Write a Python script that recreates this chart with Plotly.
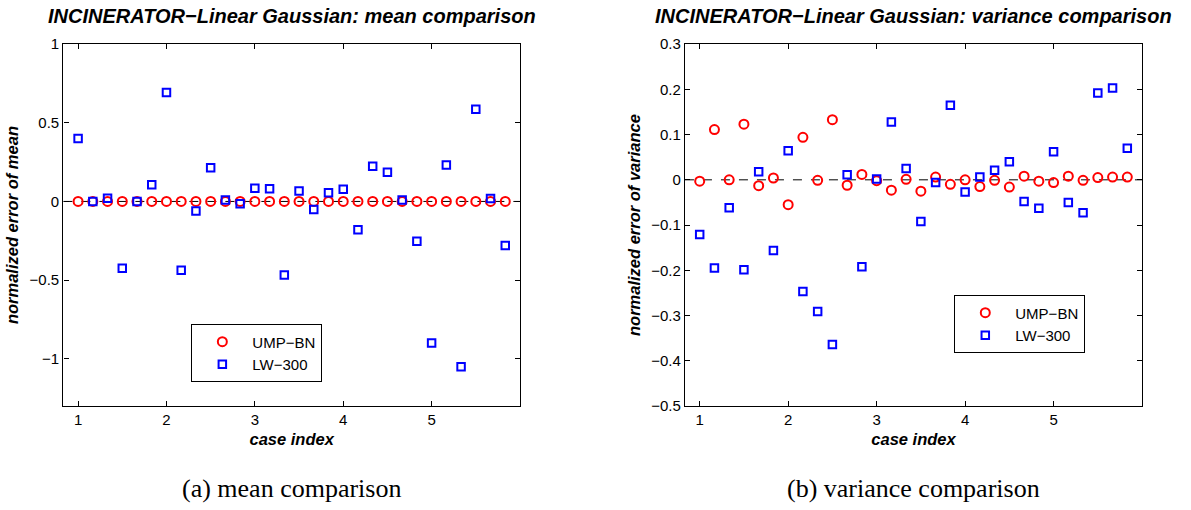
import plotly.graph_objects as go

# Case index: 30 cases, six per unit, starting at 1
case_index = [1 + i / 6 for i in range(30)]

# Normalized error of the mean
mean_ump_bn = [0.0] * 30
mean_lw300 = [0.40, 0.00, 0.02, -0.424, 0.00, 0.106, 0.693, -0.437, -0.061, 0.214,
              0.01, -0.014, 0.084, 0.08, -0.467, 0.067, -0.051, 0.055, 0.078, -0.18,
              0.224, 0.186, 0.01, -0.253, -0.90, 0.231, -1.05, 0.586, 0.018, -0.28]

# Normalized error of the variance
var_ump_bn = [-0.003, 0.111, 0.0, 0.123, -0.013, 0.004, -0.055, 0.094, -0.001, 0.133,
              -0.012, 0.012, -0.002, -0.023, 0.001, -0.025, 0.006, -0.010, 0.0, -0.015,
              -0.001, -0.016, 0.008, -0.003, -0.006, 0.008, -0.001, 0.005, 0.006, 0.006]
var_lw300 = [-0.121, -0.195, -0.062, -0.199, 0.018, -0.156, 0.064, -0.247, -0.291, -0.364,
             0.011, -0.192, 0.002, 0.128, 0.025, -0.092, -0.006, 0.165, -0.027, 0.006,
             0.021, 0.04, -0.048, -0.063, 0.062, -0.05, -0.073, 0.192, 0.203, 0.07]

x_ticks = [1, 2, 3, 4, 5]
mean_ticks = [1, 0.5, 0, -0.5, -1]
var_ticks = [0.3, 0.2, 0.1, 0, -0.1, -0.2, -0.3, -0.4, -0.5]

titles = ["INCINERATOR\u2212Linear Gaussian: mean comparison",
          "INCINERATOR\u2212Linear Gaussian: variance comparison"]
y_titles = ["normalized error of mean", "normalized error of variance"]
captions = ["(a) mean comparison", "(b) variance comparison"]
series_names = ["UMP\u2212BN", "LW\u2212300"]

SANS = "Liberation Sans, Arial, Helvetica, sans-serif"
SERIF = "Liberation Serif, DejaVu Serif, serif"
RED = "#ff0000"
BLUE = "#0000ff"

fig = go.Figure()

panels = [
    (mean_ump_bn, mean_lw300, "x", "y", "legend"),
    (var_ump_bn, var_lw300, "x2", "y2", "legend2"),
]
for ump, lw, xa, ya, lg in panels:
    fig.add_trace(go.Scatter(
        x=case_index, y=ump, mode="markers", name=series_names[0],
        xaxis=xa, yaxis=ya, legend=lg,
        marker=dict(symbol="circle-open", size=9, color=RED, line=dict(width=2, color=RED)),
    ))
    fig.add_trace(go.Scatter(
        x=case_index, y=lw, mode="markers", name=series_names[1],
        xaxis=xa, yaxis=ya, legend=lg,
        marker=dict(symbol="square-open", size=7.5, color=BLUE, line=dict(width=2, color=BLUE)),
    ))

# Dashed reference line at zero error
for xa, ya in [("x", "y"), ("x2", "y2")]:
    fig.add_shape(type="line", xref=f"{xa} domain", yref=ya, x0=0, x1=1, y0=0, y1=0,
                  line=dict(color="black", width=1, dash="dash"), layer="below")

axis_common = dict(
    showline=True, linecolor="black", linewidth=1.3, mirror="ticks",
    ticks="inside", ticklen=5, tickcolor="black", tickwidth=1,
    showgrid=False, zeroline=False,
    tickfont=dict(family=SANS, size=15, color="black"),
)
label_font = dict(family=SANS, size=16.5, color="black", style="italic", weight="bold")

x_dom = [[0.0532, 0.4366], [0.5751, 0.9589]]
y_dom = [0.1947, 0.9288]

legend_common = dict(
    xanchor="left", yanchor="top", bgcolor="white", bordercolor="black", borderwidth=1.3,
    font=dict(family=SANS, size=15, color="black"),
    itemsizing="trace", itemwidth=50, tracegroupgap=0,
)

fig.update_layout(
    width=1191, height=510,
    margin=dict(l=0, r=0, t=0, b=0),
    paper_bgcolor="white", plot_bgcolor="white",
    xaxis=dict(domain=x_dom[0], range=[5 / 6, 6], tickvals=x_ticks, anchor="y",
               title=dict(text="case index", font=label_font, standoff=6), **axis_common),
    yaxis=dict(domain=y_dom, range=[-1.3, 1], tickvals=mean_ticks, anchor="x",
               title=dict(text=y_titles[0], font=label_font, standoff=6), **axis_common),
    xaxis2=dict(domain=x_dom[1], range=[5 / 6, 6], tickvals=x_ticks, anchor="y2",
                title=dict(text="case index", font=label_font, standoff=6), **axis_common),
    yaxis2=dict(domain=y_dom, range=[-0.5, 0.3], tickvals=var_ticks, anchor="x2",
                title=dict(text=y_titles[1], font=label_font, standoff=6), **axis_common),
    legend=dict(x=0.1604, y=0.3608, **legend_common),
    legend2=dict(x=0.801, y=0.4196, **legend_common),
    showlegend=True,
)

annotations = []
for k in range(2):
    cx = (x_dom[k][0] + x_dom[k][1]) / 2
    annotations.append(dict(
        text=titles[k], xref="paper", yref="paper", x=cx, y=0.986, xanchor="center",
        yanchor="middle", showarrow=False,
        font=dict(family=SANS, size=20, color="black", style="italic", weight="bold"),
    ))
    annotations.append(dict(
        text=captions[k], xref="paper", yref="paper", x=cx, y=0.027, xanchor="center",
        yanchor="middle", showarrow=False,
        font=dict(family=SERIF, size=26, color="black"),
    ))
fig.update_layout(annotations=annotations)

fig.write_html("out.html")
